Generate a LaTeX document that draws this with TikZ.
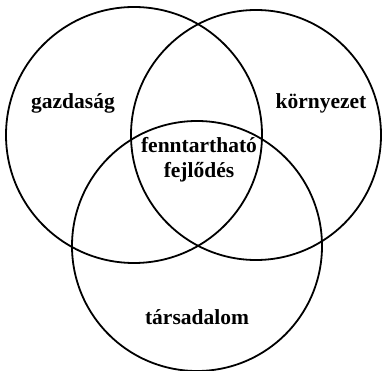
\documentclass[tikz,border=0pt]{standalone}
\usepackage{fontspec}
\setmainfont{Liberation Serif}
\usetikzlibrary{math}

\tikzset{
ring/.style={line width=1.8pt},
area/.style={font=\bfseries\fontsize{21.5}{25}\selectfont, align=center, inner sep=0pt}
}

\begin{document}
\begin{tikzpicture}[x=1pt,y=-1pt]
\tikzmath{
\Rl=128;
\Rr=125;
\Rb=125;
}
\useasboundingbox (0,0) rectangle (382,371);
%circles
\coordinate (gc) at (134,135);
\coordinate (kc) at (256,135);
\coordinate (tc) at (197,246);
\draw[ring] (gc) circle(\Rl);
\draw[ring] (kc) circle(\Rr);
\draw[ring] (tc) circle(\Rb);

%labels
\node[area] (gazd) at (73,103) {gazdaság};
\node[area] (korny) at (321,103) {környezet};
\node[area] (fenn) at (199,160) {fenntartható\\fejlődés};
\node[area] (tars) at (197,317) {társadalom};
\end{tikzpicture}
\end{document}
